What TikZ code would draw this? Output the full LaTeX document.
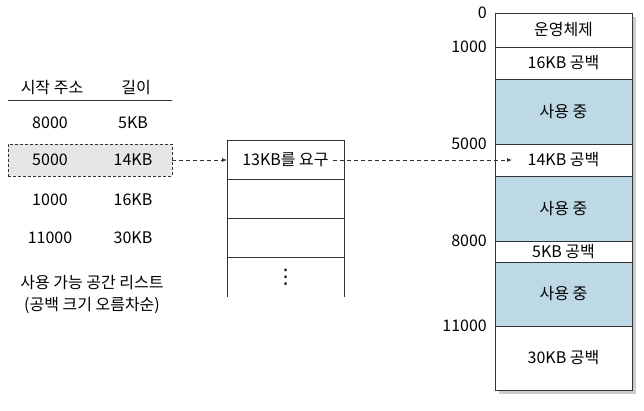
\documentclass[tikz,border=0pt]{standalone}
\usepackage{fontspec}
\setmainfont{Noto Sans CJK KR}
\newfontfamily\symfont{DejaVu Sans}
\usetikzlibrary{positioning,arrows.meta}
\definecolor{usedblue}{HTML}{BDD9E6}
\definecolor{hiliteg}{HTML}{E6E6E6}
\definecolor{linegray}{HTML}{333333}

\begin{document}
\begin{tikzpicture}[x=1pt,y=-1pt,font=\fontsize{16}{18}\selectfont,
    blk/.style={draw=linegray,fill=white,line width=1pt,minimum width=137pt,outer sep=0pt,inner sep=0pt},
    used/.style={blk,fill=usedblue},
    slot/.style={draw=linegray,line width=1pt,minimum width=117pt,minimum height=39pt,outer sep=0pt},
    addr/.style={inner sep=0pt},
    conn/.style={linegray,line width=0.8pt,dash pattern=on 4pt off 3pt,-{Latex[length=5pt,width=4pt]}}]
  \useasboundingbox (0,0) rectangle (644,410);
  % free list
  \node (hstart) at (52,88) {시작 주소};
  \node (hlen) at (136,88) {길이};
  \draw[linegray,line width=0.8pt] (8,100.5) -- (172,100.5);
  \node[draw=linegray,line width=0.8pt,dash pattern=on 3pt off 2pt,fill=hiliteg,
        minimum width=164pt,minimum height=32pt] (hilite) at (90,160) {};
  \foreach \a/\l/\y [count=\i] in {8000/5KB/123, 5000/14KB/160, 1000/16KB/200, 11000/30KB/238}
    {\node (a\i) at (50,\y) {\a};
     \node (l\i) at (133,\y) {\l};}
  \node[align=center,font=\fontsize{16}{22}\selectfont] (cap) at (92,294)
    {사용 가능 공간 리스트\\(공백 크기 오름차순)};
  % requests
  \node[slot] (req) at (285.5,160) {13KB를 요구};
  \node[slot,below=0pt of req] (s2) {};
  \node[slot,below=0pt of s2] (s3) {};
  \node[slot,draw=none,below=0pt of s3,font=\symfont\fontsize{20}{20}\selectfont] (more) {⋮};
  \draw[linegray,line width=1pt] (more.north west) -- (more.south west)
    (more.north east) -- (more.south east);
  % memory
  \fill[gray!40] (498.5,16.5) rectangle (635.5,393.5);
  \node[blk,minimum height=34pt,anchor=north west] (os) at (495,13) {운영체제};
  \node[blk,minimum height=32pt,below=0pt of os] (f16) {16KB 공백};
  \node[used,minimum height=65pt,below=0pt of f16] (u1) {사용 중};
  \node[blk,minimum height=32pt,below=0pt of u1] (f14) {14KB 공백};
  \node[used,minimum height=65pt,below=0pt of f14] (u2) {사용 중};
  \node[blk,minimum height=21pt,below=0pt of u2] (f5) {5KB 공백};
  \node[used,minimum height=64pt,below=0pt of f5] (u3) {사용 중};
  \node[blk,minimum height=64pt,below=0pt of u3] (f30) {30KB 공백};
  \foreach \b/\t in {os/0, f16/1000, f14/5000, f5/8000, f30/11000}
    \node[addr,left=8pt of \b.north west] (m\t) {\t};
  \draw[conn] (hilite.east) -- (req.west);
  \draw[conn] ([xshift=-11pt]req.east) -- ([xshift=17pt]f14.west);
\end{tikzpicture}
\end{document}
